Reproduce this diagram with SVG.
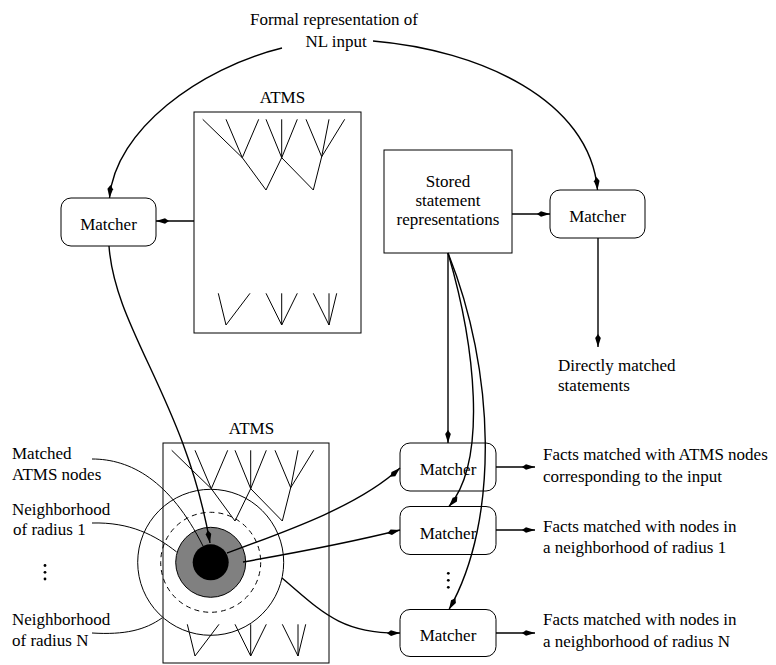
<svg xmlns="http://www.w3.org/2000/svg" width="776" height="665" viewBox="0 0 776 665">
<defs>
<style>
text{font-family:"Liberation Serif","Times New Roman",serif;font-size:17px;fill:#000}
.mid{text-anchor:middle}
.box{fill:none;stroke:#000;stroke-width:1}
.tree{fill:none;stroke:#000;stroke-width:1}
.conn{fill:none;stroke:#000;stroke-width:1.4}
.lead{fill:none;stroke:#000;stroke-width:1}
</style>
<marker id="ah" markerUnits="userSpaceOnUse" viewBox="-14 -4 16 8" refX="0" refY="0" markerWidth="16" markerHeight="8" orient="auto" overflow="visible">
<path d="M0,0 L-9,-2.8 L-13,0 L-9,2.8 Z" fill="#000"/>
</marker>
<g id="trees">
<path class="tree" d="M202.7,119.3 L242.3,157.7 M226,119.3 L242.3,157.7 M258.7,119.3 L242.3,157.7 M266,119.3 L281.7,157.7 M281.7,119.3 L281.7,157.7 M297.3,119.3 L281.7,157.7 M306,119.3 L321.7,156.7 M329,119.3 L321.7,156.7 M344.7,119.3 L321.7,156.7 M242.3,157.7 L266,190 L281.7,157.7 L313.3,190 L321.7,156.7 M218.3,293.3 L226,325 L250,293.3 M266,293.3 L281.7,325 L297.3,293.3 M281.7,293.3 L281.7,325 M313.3,293.3 L329,325 L336.7,293.3 M329,293.3 L329,325"/>
</g>
</defs>

<g id="title">
<text class="mid" x="334" y="25">Formal representation of</text>
<text class="mid" x="336" y="47">NL input</text>
</g>

<g id="atms-top">
<text class="mid" x="282.5" y="103">ATMS</text>
<rect class="box" x="194" y="112" width="167" height="221"/>
<use href="#trees"/>
</g>

<g id="matcher-left">
<rect class="box" x="61" y="198" width="95" height="48" rx="10"/>
<text class="mid" x="108.5" y="230">Matcher</text>
</g>

<g id="stored">
<rect class="box" x="384" y="150" width="128" height="103"/>
<text class="mid" x="448" y="187">Stored</text>
<text class="mid" x="448" y="206">statement</text>
<text class="mid" x="448" y="225">representations</text>
</g>

<g id="matcher-right">
<rect class="box" x="550" y="190" width="95" height="48" rx="10"/>
<text class="mid" x="597.5" y="222">Matcher</text>
</g>

<g id="direct">
<text x="558" y="371">Directly matched</text>
<text x="558" y="391">statements</text>
</g>

<g id="atms-bottom">
<text class="mid" x="251.5" y="434">ATMS</text>
<rect class="box" x="163" y="443" width="166" height="220"/>
<use href="#trees" transform="translate(-31,331)"/>
<circle cx="210.7" cy="562.3" r="73" fill="none" stroke="#000" stroke-width="1"/>
<circle cx="210.7" cy="562.3" r="50" fill="none" stroke="#000" stroke-width="1" stroke-dasharray="5,4"/>
<circle cx="210.7" cy="562.3" r="35" fill="#808080" stroke="#000" stroke-width="1"/>
<circle cx="210.7" cy="562.3" r="18" fill="#000"/>
</g>

<g id="left-labels">
<text x="12" y="459">Matched</text>
<text x="12" y="480">ATMS nodes</text>
<text x="12" y="515">Neighborhood</text>
<text x="13" y="535">of radius 1</text>
<circle cx="45" cy="565.5" r="1.4"/>
<circle cx="45" cy="572.3" r="1.4"/>
<circle cx="45" cy="579" r="1.4"/>
<text x="12" y="625">Neighborhood</text>
<text x="12" y="646">of radius N</text>
<path class="lead" d="M92,459 C130,459 170,480 203,546"/>
<path class="lead" d="M92,523 C130,522 155,535 176.7,552"/>
<path class="lead" d="M92,633 C125,635 145,630 162,618"/>
</g>

<g id="matcher-1">
<rect class="box" x="400" y="443" width="96" height="48" rx="10"/>
<text class="mid" x="448" y="475">Matcher</text>
</g>
<g id="matcher-2">
<rect class="box" x="400" y="506.5" width="96" height="48" rx="10"/>
<text class="mid" x="448" y="538.5">Matcher</text>
</g>
<g id="matcher-dots">
<circle cx="448.3" cy="573.3" r="1.4"/>
<circle cx="448.3" cy="580.3" r="1.4"/>
<circle cx="448.3" cy="587.3" r="1.4"/>
</g>
<g id="matcher-3">
<rect class="box" x="400" y="609.5" width="96" height="47" rx="10"/>
<text class="mid" x="448" y="641">Matcher</text>
</g>

<g id="results">
<text x="543" y="460">Facts matched with ATMS nodes</text>
<text x="543" y="482">corresponding to the input</text>
<text x="543" y="532">Facts matched with nodes in</text>
<text x="543" y="553">a neighborhood of radius 1</text>
<text x="543" y="625">Facts matched with nodes in</text>
<text x="543" y="647">a neighborhood of radius N</text>
</g>

<g id="connectors">
<path class="conn" marker-end="url(#ah)" d="M282,48 C200,68 115,130 109.5,198"/>
<path class="conn" marker-end="url(#ah)" d="M373,41 C480,50 590,100 597.5,190"/>
<path class="conn" marker-end="url(#ah)" d="M194,221 L156,221"/>
<path class="conn" marker-end="url(#ah)" d="M512,214 L550,214"/>
<path class="conn" marker-end="url(#ah)" d="M598,238 L598,347"/>
<path class="conn" marker-end="url(#ah)" d="M109,246 C115,330 185,400 210,543"/>
<path class="conn" marker-end="url(#ah)" d="M448,253 L448,443"/>
<path class="conn" marker-end="url(#ah)" d="M448,253 C475,345 488,460 449,506.5"/>
<path class="conn" marker-end="url(#ah)" d="M448,253 C495,370 500,520 449,609.5"/>
<path class="conn" marker-end="url(#ah)" d="M227,553 C290,530 360,505 400,468"/>
<path class="conn" marker-end="url(#ah)" d="M243,562 C300,552 360,540 400,530"/>
<path class="conn" marker-end="url(#ah)" d="M282,578 C320,610 340,634 400,633"/>
<path class="conn" marker-end="url(#ah)" d="M496,467 L535,467"/>
<path class="conn" marker-end="url(#ah)" d="M496,530 L535,530"/>
<path class="conn" marker-end="url(#ah)" d="M496,633 L535,633"/>
</g>
</svg>
